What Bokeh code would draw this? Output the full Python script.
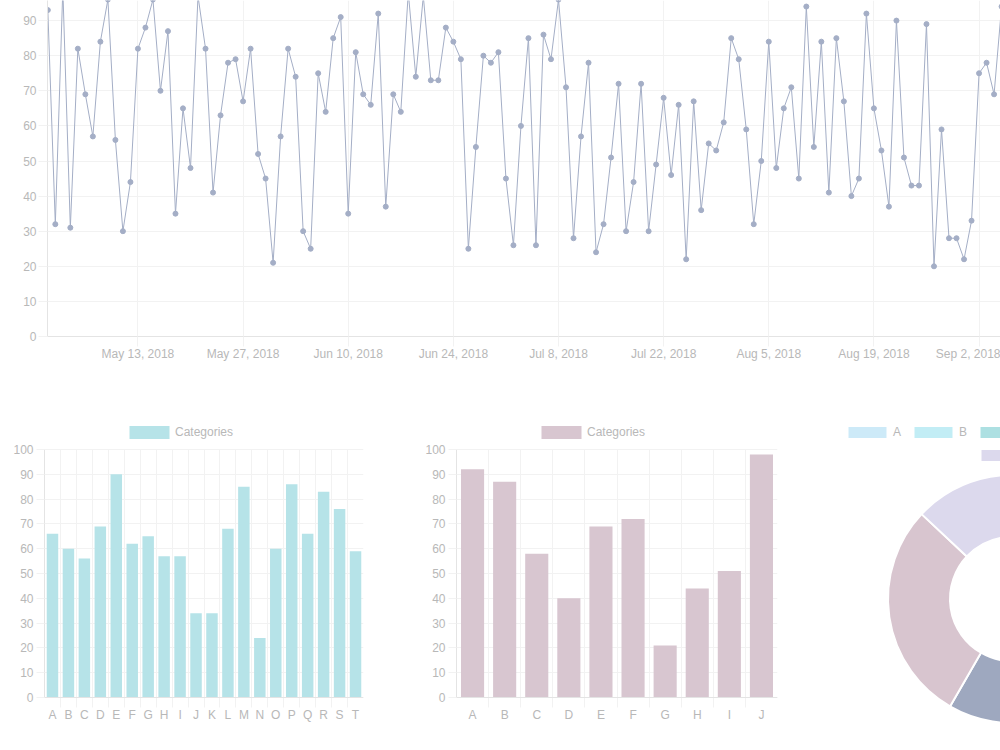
import numpy as np
import pandas as pd
from bokeh.plotting import figure
from bokeh.layouts import column, row
from bokeh.models import Range1d, FixedTicker, Legend, LegendItem, Span, Grid
from bokeh.core.properties import value
from bokeh.embed import file_html
from bokeh.resources import INLINE

# ---------------- data ----------------
start_date = "2018-05-01"
line_values = [
    93, 32, 99, 31, 82, 69, 57, 84, 96, 56, 30, 44, 82, 88, 96, 70, 87, 35, 65, 48,
    97, 82, 41, 63, 78, 79, 67, 82, 52, 45, 21, 57, 82, 74, 30, 25, 75, 64, 85, 91,
    35, 81, 69, 66, 92, 37, 69, 64, 98, 74, 97, 73, 73, 88, 84, 79, 25, 54, 80, 78,
    81, 45, 26, 60, 85, 26, 86, 79, 96, 71, 28, 57, 78, 24, 32, 51, 72, 30, 44, 72,
    30, 49, 68, 46, 66, 22, 67, 36, 55, 53, 61, 85, 79, 59, 32, 50, 84, 48, 65, 71,
    45, 94, 54, 84, 41, 85, 67, 40, 45, 92, 65, 53, 37, 90, 51, 43, 43, 89, 20, 59,
    28, 28, 22, 33, 75, 78, 69, 94,
]
date_tick_labels = ["May 13, 2018", "May 27, 2018", "Jun 10, 2018", "Jun 24, 2018",
                    "Jul 8, 2018", "Jul 22, 2018", "Aug 5, 2018", "Aug 19, 2018",
                    "Sep 2, 2018"]
value_ticks = list(range(0, 101, 10))

bar1_categories = list("ABCDEFGHIJKLMNOPQRST")
bar1_values = [66, 60, 56, 69, 90, 62, 65, 57, 57, 34, 34, 68, 85, 24, 60, 86, 66, 83, 76, 59]

bar2_categories = list("ABCDEFGHIJ")
bar2_values = [92, 87, 58, 40, 69, 72, 21, 44, 51, 98]

donut_labels = list("ABCDEF")
donut_values = [48, 40, 52, 35, 86, 39]

series_label = "Categories"

# ---------------- styles ----------------
FONT = "Liberation Sans"
TEXT = "#b8b8b8"
GRID = "#f2f2f2"
AXIS = "#e4e4e4"
LINE_COLOR = "#a4aec6"
BAR1 = "#b6e3e8"
BAR2 = "#d8c6d0"
DONUT_COLORS = ["#cdeaf8", "#c2edf5", "#ade0e2", "#9ea8bf", "#d8c5cf", "#dcd9ed"]

LEG_KW = dict(orientation="horizontal", padding=0, margin=0, spacing=7,
              glyph_width=50, glyph_height=16, label_height=16, label_width=8,
              label_standoff=1, border_line_color=None, background_fill_alpha=0,
              label_text_font=FONT, label_text_font_size="12px",
              label_text_color=TEXT)


def style(p, ytick_out=8, ystand=3):
    p.outline_line_color = None
    p.grid.grid_line_color = GRID
    p.grid.grid_line_width = 1
    for ax in p.axis:
        ax.axis_line_color = AXIS
        ax.major_tick_line_color = GRID
        ax.major_tick_in = 0
        ax.minor_tick_line_color = None
        ax.major_label_text_font = FONT
        ax.major_label_text_font_size = "12px"
        ax.major_label_text_color = TEXT
    for ax in p.yaxis:
        ax.major_tick_out = ytick_out
        ax.major_label_standoff = ystand
        ax.ticker = FixedTicker(ticks=value_ticks)
    p.ygrid.ticker = FixedTicker(ticks=value_ticks)


# ---------------- top line chart ----------------
dates = pd.date_range(start_date, periods=len(line_values), freq="D")
px_per_day = 7.51
x_start = dates[0] - pd.Timedelta(hours=1)
x_end = x_start + pd.Timedelta(days=(1000 - 47) / px_per_day)

p1 = figure(width=1000, height=380, x_axis_type="datetime",
            x_range=Range1d(x_start, x_end), y_range=Range1d(0, 336 / 3.51),
            output_backend="svg", toolbar_location=None,
            min_border_left=47, min_border_right=0, min_border_top=0,
            min_border_bottom=44)
p1.line(dates, line_values, line_color=LINE_COLOR, line_width=1)
p1.scatter(dates, line_values, size=5, fill_color=LINE_COLOR, line_color=LINE_COLOR)
style(p1, ytick_out=9, ystand=2)

tick_ms = [int(pd.Timestamp(s).value // 10**6) for s in date_tick_labels]
date_ticker = FixedTicker(ticks=tick_ms)
p1.xaxis.ticker = date_ticker
p1.xgrid.ticker = date_ticker
p1.xaxis.major_label_overrides = {t: s for t, s in zip(tick_ms, date_tick_labels)}
p1.xaxis.major_tick_out = 10
p1.xaxis.major_label_standoff = 0

# ---------------- bar charts ----------------
PPU = 248 / 100.0          # pixels per value unit in the bar charts
Y_LO = -53 / PPU           # frame extends 53 px below the zero line
Y_HI = 317 / PPU           # and 317 px above it
TICK_UNITS = 10 / PPU
HAS_CROSS = "cross_bounds" in Grid.properties()


def bar_chart(categories, values, color, bl, br):
    n = len(categories)
    centers = (np.arange(n) + 0.5).tolist()
    bounds = list(range(n + 1))
    p = figure(width=400, height=370, x_range=Range1d(0, n), y_range=Range1d(Y_LO, Y_HI),
               x_axis_location=None,
               output_backend="svg", toolbar_location=None,
               min_border_left=bl, min_border_right=br, min_border_top=0,
               min_border_bottom=0)
    style(p)
    p.yaxis.bounds = (0, 100)
    p.ygrid.bounds = (0, 100)
    if HAS_CROSS:
        p.xgrid.ticker = FixedTicker(ticks=bounds)
        p.xgrid.cross_bounds = (-TICK_UNITS, 100)
        p.xgrid.grid_line_color = GRID
    else:
        p.xgrid.grid_line_color = None
        p.segment(x0=bounds, x1=bounds, y0=[-TICK_UNITS] * len(bounds),
                  y1=[100] * len(bounds), line_color=GRID, line_width=1)
    r = p.vbar(x=centers, top=values, width=0.72, fill_color=color, line_color=None)
    p.add_layout(Span(location=0, dimension="width", line_color=AXIS, line_width=1))
    p.text(x=centers, y=[0] * n, text=categories, text_align="center",
           text_baseline="middle", y_offset=17, text_font=value(FONT),
           text_font_size="12px", text_color=TEXT)
    leg = Legend(items=[LegendItem(label=series_label, renderers=[r])],
                 location=(80, 310), **LEG_KW)
    p.add_layout(leg)
    return p


p2 = bar_chart(bar1_categories, bar1_values, BAR1, 44, 37)
p3 = bar_chart(bar2_categories, bar2_values, BAR2, 56, 23)

# ---------------- doughnut ----------------
vals = np.array(donut_values, dtype=float)
frac = np.cumsum(vals) / vals.sum()
start_frac = np.concatenate([[0.0], frac[:-1]])
start_angles = (np.pi / 2 - 2 * np.pi * start_frac).tolist()
end_angles = (np.pi / 2 - 2 * np.pi * frac).tolist()

p4 = figure(width=200, height=370, x_range=Range1d(0, 200), y_range=Range1d(0, 370),
            output_backend="svg", toolbar_location=None,
            x_axis_location=None, y_axis_location=None,
            min_border_left=0, min_border_right=0, min_border_top=0, min_border_bottom=0)
p4.outline_line_color = None
p4.grid.visible = False
wr = p4.annular_wedge(x=[211.5] * len(vals), y=[151.5] * len(vals),
                      inner_radius=62, outer_radius=124,
                      start_angle=start_angles, end_angle=end_angles,
                      direction="clock", fill_color=DONUT_COLORS,
                      line_color="white", line_width=2)

row1_items = [LegendItem(label=lab, renderers=[wr], index=i)
              for i, lab in enumerate(donut_labels[:5])]
row2_items = [LegendItem(label=lab, renderers=[wr], index=i + 5)
              for i, lab in enumerate(donut_labels[5:])]
p4.add_layout(Legend(items=row1_items, location=(42, 310), **LEG_KW))
p4.add_layout(Legend(items=row2_items, location=(175, 287), **LEG_KW))

layout = column(p1, row(p2, p3, p4))

with open("out.html", "w") as f:
    f.write(file_html(layout, INLINE))
